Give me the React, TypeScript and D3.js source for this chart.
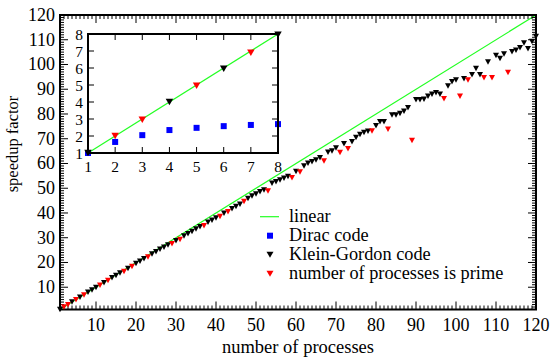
import React from "react";
import * as d3 from "d3";

const W = 550;
const H = 358;

// number of processes 1..120, Klein-Gordon speedup
const processes = d3.range(1, 121);
const kgSpeedup = [
  1.0, 2.0, 2.95, 4.0, 4.95, 5.95, 6.9, 7.95, 8.9, 9.9,
  10.75, 11.85, 12.7, 13.8, 14.75, 15.7, 16.4, 17.6, 18.4, 19.6,
  20.5, 21.5, 22.2, 23.4, 24.3, 25.3, 26.2, 27.1, 27.6, 28.8,
  29.3, 30.7, 31.6, 32.5, 33.5, 34.4, 34.8, 36.3, 37.1, 38.0,
  38.6, 39.9, 40.5, 41.7, 42.6, 43.5, 44.6, 45.9, 46.9, 47.7,
  48.6, 49.3, 48.9, 52.0, 52.6, 53.3, 54.0, 54.7, 54.2, 56.8,
  56.6, 59.0, 60.1, 60.7, 61.4, 62.3, 61.0, 64.5, 65.0, 66.3,
  64.4, 68.0, 66.0, 68.8, 70.5, 71.7, 72.5, 73.0, 73.1, 75.2,
  76.9, 76.9, 73.8, 79.6, 79.6, 80.2, 81.1, 82.5, 69.3, 85.8,
  85.8, 86.0, 87.2, 88.0, 88.6, 88.0, 86.2, 91.3, 93.0, 93.7,
  87.2, 94.2, 93.7, 95.9, 98.4, 95.9, 94.6, 101.0, 94.6, 103.6,
  102.4, 104.2, 96.8, 105.2, 105.8, 106.8, 108.7, 106.4, 109.3, 111.3,
];
const primes = [2, 3, 5, 7, 11, 13, 17, 19, 23, 29, 31, 37, 41, 43, 47, 53, 59, 61, 67, 71,
  73, 79, 83, 89, 97, 101, 103, 107, 109, 113];

// inset: first 8 processes
const insetProcesses = [1, 2, 3, 4, 5, 6, 7, 8];
const diracSpeedup = [1.0, 1.65, 2.05, 2.35, 2.48, 2.58, 2.65, 2.7];

const mainTicks = [10, 20, 30, 40, 50, 60, 70, 80, 90, 100, 110, 120];
const mainMinor = d3.range(1, 121);
const insetTicks = [1, 2, 3, 4, 5, 6, 7, 8];

const legendItems = ["linear", "Dirac code", "Klein-Gordon code", "number of processes is prime"];

const font = "'Liberation Serif', 'Times New Roman', serif";
const green = "#22ff22";

function tri(cx: number, cy: number, w: number, h: number) {
  return `M${cx - w / 2},${cy - h / 2}L${cx + w / 2},${cy - h / 2}L${cx},${cy + h / 2}Z`;
}

export default function App() {
  const x = d3.scaleLinear().domain([1, 120]).range([60, 536]);
  const y = d3.scaleLinear().domain([1, 120]).range([309.5, 15]);
  const ix = d3.scaleLinear().domain([1, 8]).range([88, 278]);
  const iy = d3.scaleLinear().domain([1, 8]).range([153, 34]);

  const pts = processes.map((n, i) => ({ n, v: kgSpeedup[i], prime: primes.includes(n) }));
  const line = d3.line<number>().x((d) => x(d)).y((d) => y(d));
  const iline = d3.line<number>().x((d) => ix(d)).y((d) => iy(d));

  const [x0, x1] = x.range();
  const [y0, y1] = y.range();
  const [ix0, ix1] = ix.range();
  const [iy0, iy1] = iy.range();

  return (
    <svg width={W} height={H} style={{ position: "absolute", left: 0, top: 0, background: "#fff" }} fontFamily={font}>
      {/* linear reference */}
      <path d={line([1, 120]) || ""} stroke={green} strokeWidth={1.2} fill="none" />

      {/* ticks on all four sides, pointing in */}
      {mainMinor.map((t) => {
        const big = t % 10 === 0;
        const L = big ? 8 : 4;
        return (
          <g key={"m" + t} stroke="#000" strokeWidth={1}>
            <line x1={x(t)} x2={x(t)} y1={y0} y2={y0 - L} />
            <line x1={x(t)} x2={x(t)} y1={y1} y2={y1 + L} />
            <line x1={x0} x2={x0 + L} y1={y(t)} y2={y(t)} />
            <line x1={x1} x2={x1 - L} y1={y(t)} y2={y(t)} />
          </g>
        );
      })}
      <rect x={x0} y={y1} width={x1 - x0} height={y0 - y1} fill="none" stroke="#000" strokeWidth={2} />

      {/* tick labels */}
      {mainTicks.map((t) => (
        <text key={"xl" + t} x={x(t)} y={331} textAnchor="middle" fontSize={18}>{t}</text>
      ))}
      {mainTicks.map((t) => (
        <text key={"yl" + t} x={55} y={y(t) + 6} textAnchor="end" fontSize={18}>{t}</text>
      ))}
      <text x={298} y={353} textAnchor="middle" fontSize={18.5}>number of processes</text>
      <text transform={`translate(18,144) rotate(-90)`} textAnchor="middle" fontSize={16.5}>speedup factor</text>

      {/* Klein-Gordon points */}
      {pts.map((p) => (
        <path key={"p" + p.n} d={tri(x(p.n), y(p.v), 6, 5.5)} fill={p.prime ? "#ff0000" : "#000"} />
      ))}

      {/* inset */}
      <rect x={ix0} y={iy1} width={ix1 - ix0} height={iy0 - iy1} fill="#fff" />
      <path d={iline([1, 8]) || ""} stroke={green} strokeWidth={1.2} fill="none" />
      {insetTicks.map((t) => (
        <g key={"it" + t} stroke="#000" strokeWidth={1}>
          <line x1={ix(t)} x2={ix(t)} y1={iy0} y2={iy0 - 6} />
          <line x1={ix(t)} x2={ix(t)} y1={iy1} y2={iy1 + 6} />
          <line x1={ix0} x2={ix0 + 6} y1={iy(t)} y2={iy(t)} />
          <line x1={ix1} x2={ix1 - 6} y1={iy(t)} y2={iy(t)} />
        </g>
      ))}
      {insetProcesses.map((n, i) => (
        <rect key={"d" + n} x={ix(n) - 3} y={iy(diracSpeedup[i]) - 3} width={6} height={6} fill="#0000ff" />
      ))}
      {insetProcesses.map((n, i) => (
        <path key={"ik" + n} d={tri(ix(n), iy(kgSpeedup[i]), 7.5, 6.5)} fill={primes.includes(n) ? "#ff0000" : "#000"} />
      ))}
      <rect x={ix0} y={iy1} width={ix1 - ix0} height={iy0 - iy1} fill="none" stroke="#000" strokeWidth={2} />
      {insetTicks.map((t) => (
        <text key={"ixl" + t} x={ix(t)} y={171.5} textAnchor="middle" fontSize={15.5}>{t}</text>
      ))}
      {insetTicks.map((t) => (
        <text key={"iyl" + t} x={83} y={iy(t) + 5.5} textAnchor="end" fontSize={15.5}>{t}</text>
      ))}

      {/* legend */}
      <g fontSize={18.3}>
        {legendItems.map((label, i) => {
          const ly = 216.7 + i * 19;
          return (
            <g key={label}>
              {i === 0 && <line x1={260} x2={279} y1={ly} y2={ly} stroke={green} strokeWidth={1.2} />}
              {i === 1 && <rect x={267} y={ly - 3} width={6} height={6} fill="#0000ff" />}
              {i === 2 && <path d={tri(270, ly, 7, 6)} fill="#000" />}
              {i === 3 && <path d={tri(270, ly, 7, 6)} fill="#ff0000" />}
              <text x={289} y={ly + 5.5}>{label}</text>
            </g>
          );
        })}
      </g>
    </svg>
  );
}
